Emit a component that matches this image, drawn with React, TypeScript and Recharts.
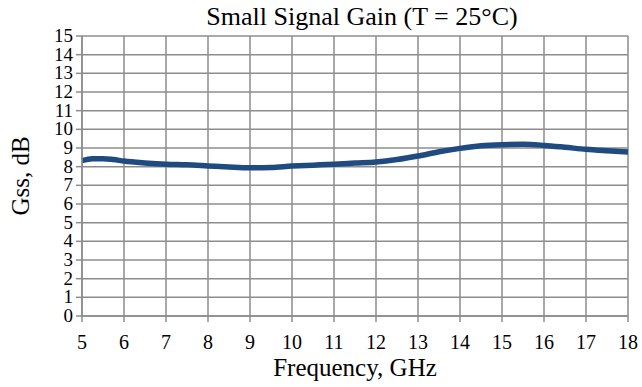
import { LineChart, Line, XAxis, YAxis, CartesianGrid } from "recharts";

const freqGHz = [5, 5.25, 5.5, 5.75, 6, 6.5, 7, 7.5, 8, 8.5, 9, 9.5, 10, 10.5, 11, 11.5, 12, 12.5, 13, 13.5, 14, 14.5, 15, 15.5, 16, 16.5, 17, 17.5, 18];
const gssDb = [8.32, 8.42, 8.43, 8.38, 8.3, 8.2, 8.13, 8.1, 8.04, 7.98, 7.94, 7.96, 8.03, 8.08, 8.13, 8.19, 8.25, 8.38, 8.57, 8.8, 8.98, 9.12, 9.18, 9.2, 9.14, 9.04, 8.93, 8.85, 8.78];
const xTicks = [5, 6, 7, 8, 9, 10, 11, 12, 13, 14, 15, 16, 17, 18];
const yTicks = [0, 1, 2, 3, 4, 5, 6, 7, 8, 9, 10, 11, 12, 13, 14, 15];

const data = freqGHz.map((f, i) => ({ f, g: gssDb[i] }));

const FONT = "'Liberation Serif', serif";
const GRID = "#8c8c8c";

// draw ticks ourselves so the serif font sticks
function XTick(props: any) {
    const { x, y, payload } = props;
    return (
        <text x={x} y={y} dy={23} textAnchor="middle" fill="#000" fontSize={20} style={{ fontFamily: FONT }}>
            {payload.value}
        </text>
    );
}

function YTick(props: any) {
    const { x, y, payload } = props;
    return (
        <text x={x} y={y} dy={6} textAnchor="end" fill="#000" fontSize={19} style={{ fontFamily: FONT }}>
            {payload.value}
        </text>
    );
}

export default function App() {
    return (
        <div style={{ position: "relative", width: 642, height: 387, background: "#fff", fontFamily: FONT }}>
            <style>{`body{margin:0} .recharts-wrapper text{font-family:'Liberation Serif', serif}`}</style>
            <div style={{ position: "absolute", top: 1, left: 82, width: 560, textAlign: "center", fontSize: 26, lineHeight: "32px", color: "#000" }}>
                Small Signal Gain (T = 25°C)
            </div>
            <LineChart width={642} height={387} data={data} margin={{ top: 36, right: 14, bottom: 0, left: 0 }} style={{ fontFamily: FONT }}>
                <CartesianGrid stroke={GRID} strokeWidth={1.5} />
                <XAxis
                    dataKey="f"
                    type="number"
                    domain={[5, 18]}
                    ticks={xTicks}
                    interval={0}
                    height={71}
                    stroke={GRID}
                    strokeWidth={1.5}
                    tickSize={6}
                    tickMargin={4}
                    tick={<XTick />}
                    label={{ value: "Frequency, GHz", position: "insideBottom", offset: 11, fill: "#000", fontSize: 25 }}
                />
                <YAxis
                    type="number"
                    domain={[0, 15]}
                    ticks={yTicks}
                    interval={0}
                    width={82}
                    stroke={GRID}
                    strokeWidth={1.5}
                    tickSize={6}
                    tickMargin={3}
                    tick={<YTick />}
                    label={{ value: "Gss, dB", angle: -90, position: "insideLeft", offset: 20, fill: "#000", fontSize: 25, style: { textAnchor: "middle" } }}
                />
                <Line type="monotone" dataKey="g" stroke="#1f4b80" strokeWidth={5.5} dot={false} isAnimationActive={false} />
            </LineChart>
        </div>
    );
}
